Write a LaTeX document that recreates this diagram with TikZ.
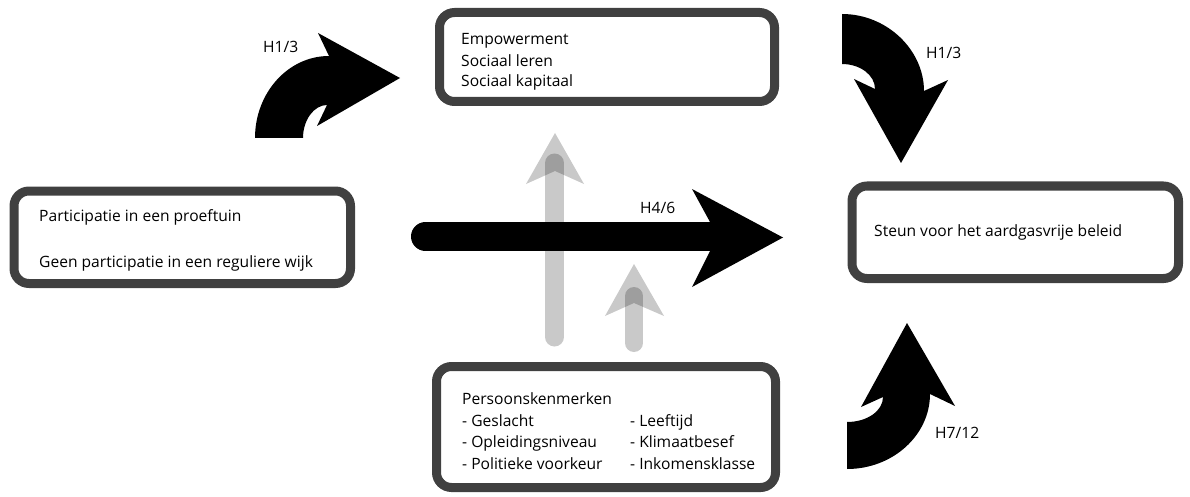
\documentclass[tikz,border=0pt]{standalone}
\usepackage{fontspec}
\setmainfont{Open Sans}
\usepackage{tikz}
\usetikzlibrary{
	positioning,
	calc
}

\begin{document}
\begin{tikzpicture}[
	x=1pt,y=-1pt,
	every node/.style={inner sep=0pt},
	c_box/.style={
		draw=black!75,
		fill=white,
		line width=9pt,
		rounded corners=15pt
	},
	c_text/.style={
		anchor=base west,
		font=\fontsize{15.6}{19}\selectfont
	},
	c_label/.style={
		anchor=base west,
		font=\fontsize{15.6}{19}\selectfont
	},
	c_block/.style={
		fill=black,
		draw=none
	},
	c_ghost/.style={
		fill=black,
		fill opacity=0.21,
		draw=none
	},
	c_ghostline/.style={
		draw=black,
		draw opacity=0.21,
		line cap=round
	}
	]

	\useasboundingbox (0,0) rectangle (1190,497);

	% =========================================================================
	% GREY ARROWS (personal characteristics)
	% =========================================================================

	% Tall one
	\draw[c_ghostline,line width=19pt] (554.5,337) -- (554.5,163);
	\fill[c_ghost] (555,133)--(584,184)--(555,171)--(526,184)--cycle;

	% Short one
	\draw[c_ghostline,line width=18pt] (634,343) -- (634,296);
	\fill[c_ghost] (634,264)--(664,316)--(634,303)--(605,316)--cycle;

	% =========================================================================
	% BOXES
	% =========================================================================

	\node[c_box,minimum width=335pt,minimum height=89pt]
	(mediators) at (607,57) {};

	\node[c_box,minimum width=336.5pt,minimum height=92.5pt]
	(participation) at (182.25,237.25) {};

	\node[c_box,minimum width=326.5pt,minimum height=92.5pt]
	(support) at (1015.25,232.25) {};

	\node[c_box,minimum width=339pt,minimum height=121pt]
	(personal) at (606,427) {};

	% Box texts
	\node[c_text] (empowerment) at (461,45) {Empowerment};
	\node[c_text] (learning) at (461,66.5) {Sociaal leren};
	\node[c_text] (capital) at (461,87) {Sociaal kapitaal};

	\node[c_text] (garden) at (39,221) {Participatie in een proeftuin};
	\node[c_text] (district) at (39,267) {Geen participatie in een reguliere wijk};

	\node[c_text] (policy) at (874,236.5) {Steun voor het aardgasvrije beleid};

	\node[c_text] (traits) at (462,404) {Persoonskenmerken};
	\node[c_text] (gender) at (462,426) {- Geslacht};
	\node[c_text] (education) at (462,447.5) {- Opleidingsniveau};
	\node[c_text] (politics) at (462,469) {- Politieke voorkeur};
	\node[c_text] (age) at (630,426) {- Leeftijd};
	\node[c_text] (climate) at (630,447.5) {- Klimaatbesef};
	\node[c_text] (income) at (630,469) {- Inkomensklasse};

	% =========================================================================
	% BLACK ARROWS
	% =========================================================================

	% Straight arrow
	\draw[black,line width=29pt,line cap=round]
	(425.5,236.5)--(712,236.5);
	\fill[c_block]
	(710,222)--(692,189)--(783,237.5)--(692,287)--(710,251)--cycle;

	% Curved arrow towards the mediators
	\fill[c_block]
	(255,138) .. controls (255,93) and (288,56) .. (329,56)
	--(318,33)--(400,78)--(317,126)--(327,105)
	.. controls (314,105) and (303,120) .. (303,138) --cycle;

	% Curved arrow from the mediators
	\fill[c_block]
	(842,14) .. controls (887,14) and (924,50) .. (924,91)
	--(948,80)--(901,163)--(854,79)--(875,89)
	.. controls (875,75) and (860,64) .. (842,64) --cycle;

	% Curved arrow from the personal characteristics
	\fill[c_block]
	(847,469) .. controls (893,469) and (930,435) .. (930,394)
	--(955,406)--(907,323)--(861,407)--(883,397)
	.. controls (883,411) and (867,422) .. (847,422) --cycle;

	% =========================================================================
	% LABELS
	% =========================================================================

	\node[c_label] (h13a) at (263,53) {H1/3};
	\node[c_label] (h13b) at (926,59) {H1/3};
	\node[c_label] (h46) at (640,213) {H4/6};
	\node[c_label] (h712) at (935,438) {H7/12};

\end{tikzpicture}
\end{document}
